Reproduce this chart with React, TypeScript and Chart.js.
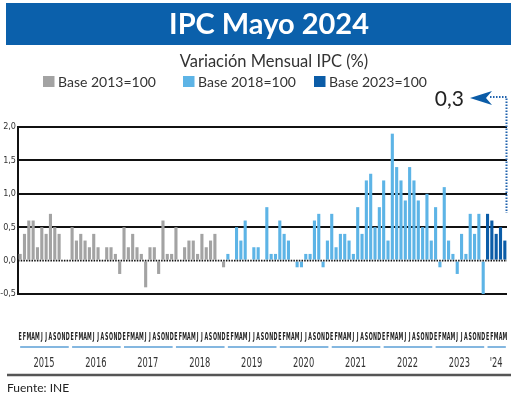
import React, { useEffect, useRef } from "react";
import { Chart, registerables } from "chart.js";

Chart.register(...registerables);

const monthLetters = ["E", "F", "M", "A", "M", "J", "J", "A", "S", "O", "N", "D"];
const yearLabels = ["2015", "2016", "2017", "2018", "2019", "2020", "2021", "2022", "2023", "'24"];
const monthsInLastYear = 5;

// Base 2013=100 : Jan 2015 - Dec 2018
const base2013 = [
  0.1, 0.4, 0.6, 0.6, 0.2, 0.5, 0.4, 0.7, 0.5, 0.4, 0, 0,
  0.5, 0.3, 0.4, 0.3, 0.2, 0.4, 0.2, 0, 0.2, 0.2, 0.1, -0.2,
  0.5, 0.2, 0.4, 0.2, 0.1, -0.4, 0.2, 0.2, -0.2, 0.6, 0.1, 0.1,
  0.5, 0, 0.2, 0.3, 0.3, 0.1, 0.4, 0.2, 0.3, 0.4, 0, -0.1,
];
// Base 2018=100 : Jan 2019 - Dec 2023
const base2018 = [
  0.1, 0, 0.5, 0.3, 0.6, 0, 0.2, 0.2, 0, 0.8, 0.1, 0.1,
  0.6, 0.4, 0.3, 0, -0.1, -0.1, 0.1, 0.1, 0.6, 0.7, -0.1, 0.3,
  0.7, 0.2, 0.4, 0.4, 0.3, 0.1, 0.8, 0.4, 1.2, 1.3, 0.5, 0.8,
  1.2, 0.3, 1.9, 1.4, 1.2, 0.9, 1.4, 1.2, 0.9, 0.5, 1.0, 0.3,
  0.8, -0.1, 1.1, 0.3, 0.1, -0.2, 0.4, 0.1, 0.7, 0.4, 0.7, -0.5,
];
// Base 2023=100 : Jan 2024 - May 2024
const base2023 = [0.7, 0.6, 0.4, 0.5, 0.3];

const seriesNames = ["Base 2013=100", "Base 2018=100", "Base 2023=100"];
const seriesColors = ["#a3a3a3", "#5db4e6", "#0b5ca7"];
const yMin = -0.5;
const yMax = 2.0;
const yStep = 0.5;

const titleText = "IPC Mayo 2024";
const subtitleText = "Variación Mensual IPC (%)";
const sourceText = "Fuente: INE";

const fmt = (v: number) => v.toFixed(1).replace(".", ",");

const labels: string[] = [];
const yearOfIndex: number[] = [];
yearLabels.forEach((_, yi) => {
  const n = yi === yearLabels.length - 1 ? monthsInLastYear : 12;
  for (let m = 0; m < n; m++) {
    labels.push(monthLetters[m]);
    yearOfIndex.push(yi);
  }
});
const total = labels.length;
const pad = (n: number) => Array(n).fill(null);
const d1 = [...base2013, ...pad(total - base2013.length)];
const d2 = [...pad(base2013.length), ...base2018, ...pad(base2023.length)];
const d3 = [...pad(base2013.length + base2018.length), ...base2023];

const decor = {
  id: "decor",
  afterDatasetsDraw(chart: any) {
    const { ctx, scales } = chart;
    const x = scales.x;
    const y = scales.y;
    const y0 = y.getPixelForValue(0);
    ctx.save();
    ctx.strokeStyle = "#111";
    ctx.lineWidth = 1.6;
    ctx.setLineDash([1.5, 1.2]);
    ctx.beginPath();
    ctx.moveTo(x.left, y0);
    ctx.lineTo(x.right, y0);
    ctx.stroke();
    ctx.restore();
  },
  afterDraw(chart: any) {
    const { ctx, scales } = chart;
    const x = scales.x;
    ctx.save();

    // Title banner
    ctx.fillStyle = "#0b60ab";
    ctx.fillRect(6, 3, 505, 42);
    ctx.fillStyle = "#ffffff";
    ctx.font = "bold 29px Lato";
    ctx.textAlign = "center";
    ctx.textBaseline = "alphabetic";
    ctx.fillText(titleText, 269, 33.5);

    // Subtitle
    ctx.fillStyle = "#333";
    ctx.font = "16.5px Lato";
    ctx.fillText(subtitleText, 274, 66.5);

    // Legend
    const legX = [43, 183, 314];
    ctx.textAlign = "left";
    ctx.font = "14px Lato";
    seriesNames.forEach((name, i) => {
      ctx.fillStyle = seriesColors[i];
      ctx.fillRect(legX[i], 76, 11.5, 11);
      ctx.fillStyle = "#333";
      ctx.fillText(name, legX[i] + 15, 86.5);
    });

    // Last value annotation
    const lastVal = base2023[base2023.length - 1];
    ctx.fillStyle = "#222";
    ctx.font = "21px Lato";
    ctx.textAlign = "right";
    ctx.fillText(fmt(lastVal), 464, 106);
    // arrowhead
    ctx.fillStyle = "#0b5ca7";
    ctx.beginPath();
    ctx.moveTo(470, 98);
    ctx.lineTo(492, 91);
    ctx.lineTo(486, 98);
    ctx.lineTo(492, 105);
    ctx.closePath();
    ctx.fill();
    // dotted connector
    ctx.strokeStyle = "#1f62ad";
    ctx.lineWidth = 2;
    ctx.setLineDash([1.5, 1.5]);
    ctx.beginPath();
    ctx.moveTo(490, 97);
    ctx.lineTo(506.5, 97);
    ctx.lineTo(506.5, 213);
    ctx.stroke();
    ctx.setLineDash([]);

    // Month letters
    ctx.fillStyle = "#222";
    ctx.textAlign = "center";
    ctx.textBaseline = "alphabetic";
    ctx.font = "bold 11px 'DejaVu Sans Condensed', 'DejaVu Sans'";
    const sx = 0.48;
    labels.forEach((lab, i) => {
      const px = x.getPixelForValue(i);
      ctx.save();
      ctx.translate(px, 339.5);
      ctx.scale(sx, 1);
      ctx.fillText(lab, 0, 0);
      ctx.restore();
    });

    // Year underline + labels
    yearLabels.forEach((yl, yi) => {
      let first = -1;
      let last = -1;
      yearOfIndex.forEach((v, i) => {
        if (v === yi) {
          if (first < 0) first = i;
          last = i;
        }
      });
      const a = x.getPixelForValue(first);
      const b = x.getPixelForValue(last);
      ctx.strokeStyle = "#5b9fd6";
      ctx.lineWidth = 1.5;
      ctx.beginPath();
      ctx.moveTo(a, 347);
      ctx.lineTo(b + 1, 347);
      ctx.stroke();
      ctx.fillStyle = "#333";
      ctx.font = "14px 'DejaVu Sans Condensed', 'DejaVu Sans'";
      ctx.save();
      ctx.translate((a + b) / 2, 366.5);
      ctx.scale(0.66, 1);
      ctx.fillText(yl, 0, 0);
      ctx.restore();
    });

    // Bottom rule
    ctx.strokeStyle = "#555";
    ctx.lineWidth = 2.5;
    ctx.beginPath();
    ctx.moveTo(7, 375);
    ctx.lineTo(511, 375);
    ctx.stroke();

    // Source
    ctx.fillStyle = "#222";
    ctx.textAlign = "left";
    ctx.font = "12px Lato";
    ctx.fillText(sourceText, 7, 392);

    ctx.restore();
  },
};

export default function App() {
  const ref = useRef<HTMLCanvasElement | null>(null);
  useEffect(() => {
    if (!ref.current) return;
    const chart = new Chart(ref.current, {
      type: "bar",
      data: {
        labels,
        datasets: [
          { label: seriesNames[0], data: d1, backgroundColor: seriesColors[0] },
          { label: seriesNames[1], data: d2, backgroundColor: seriesColors[1] },
          { label: seriesNames[2], data: d3, backgroundColor: seriesColors[2] },
        ],
      },
      options: {
        animation: false,
        responsive: false,
        devicePixelRatio: 1,
        datasets: { bar: { barPercentage: 0.72, categoryPercentage: 1 } },
        layout: { padding: { top: 127, left: 0, right: 13, bottom: 103 } },
        plugins: { legend: { display: false }, tooltip: { enabled: false }, title: { display: false } },
        scales: {
          x: {
            stacked: true,
            display: false,
            offset: true,
          },
          y: {
            stacked: true,
            min: yMin,
            max: yMax,
            afterFit: (s: any) => {
              s.width = 18;
            },
            ticks: {
              stepSize: yStep,
              padding: 2,
              color: "#333",
              font: { family: "'Liberation Sans Narrow', 'DejaVu Sans Condensed', sans-serif", size: 9 },
              callback: (v: any) => fmt(Number(v)),
            },
            grid: {
              color: (c: any) => (c.tick && c.tick.value === 0 ? "rgba(0,0,0,0)" : "#111"),
              lineWidth: 2,
              drawTicks: false,
            },
            border: { display: true, color: "#111", width: 2 },
          },
        },
      },
      plugins: [decor],
    });
    return () => chart.destroy();
  }, []);
  return (
    <div style={{ position: "fixed", left: 0, top: 0, width: 520, height: 397, background: "#fff" }}>
      <canvas ref={ref} width={520} height={397} style={{ width: 520, height: 397 }} />
    </div>
  );
}
